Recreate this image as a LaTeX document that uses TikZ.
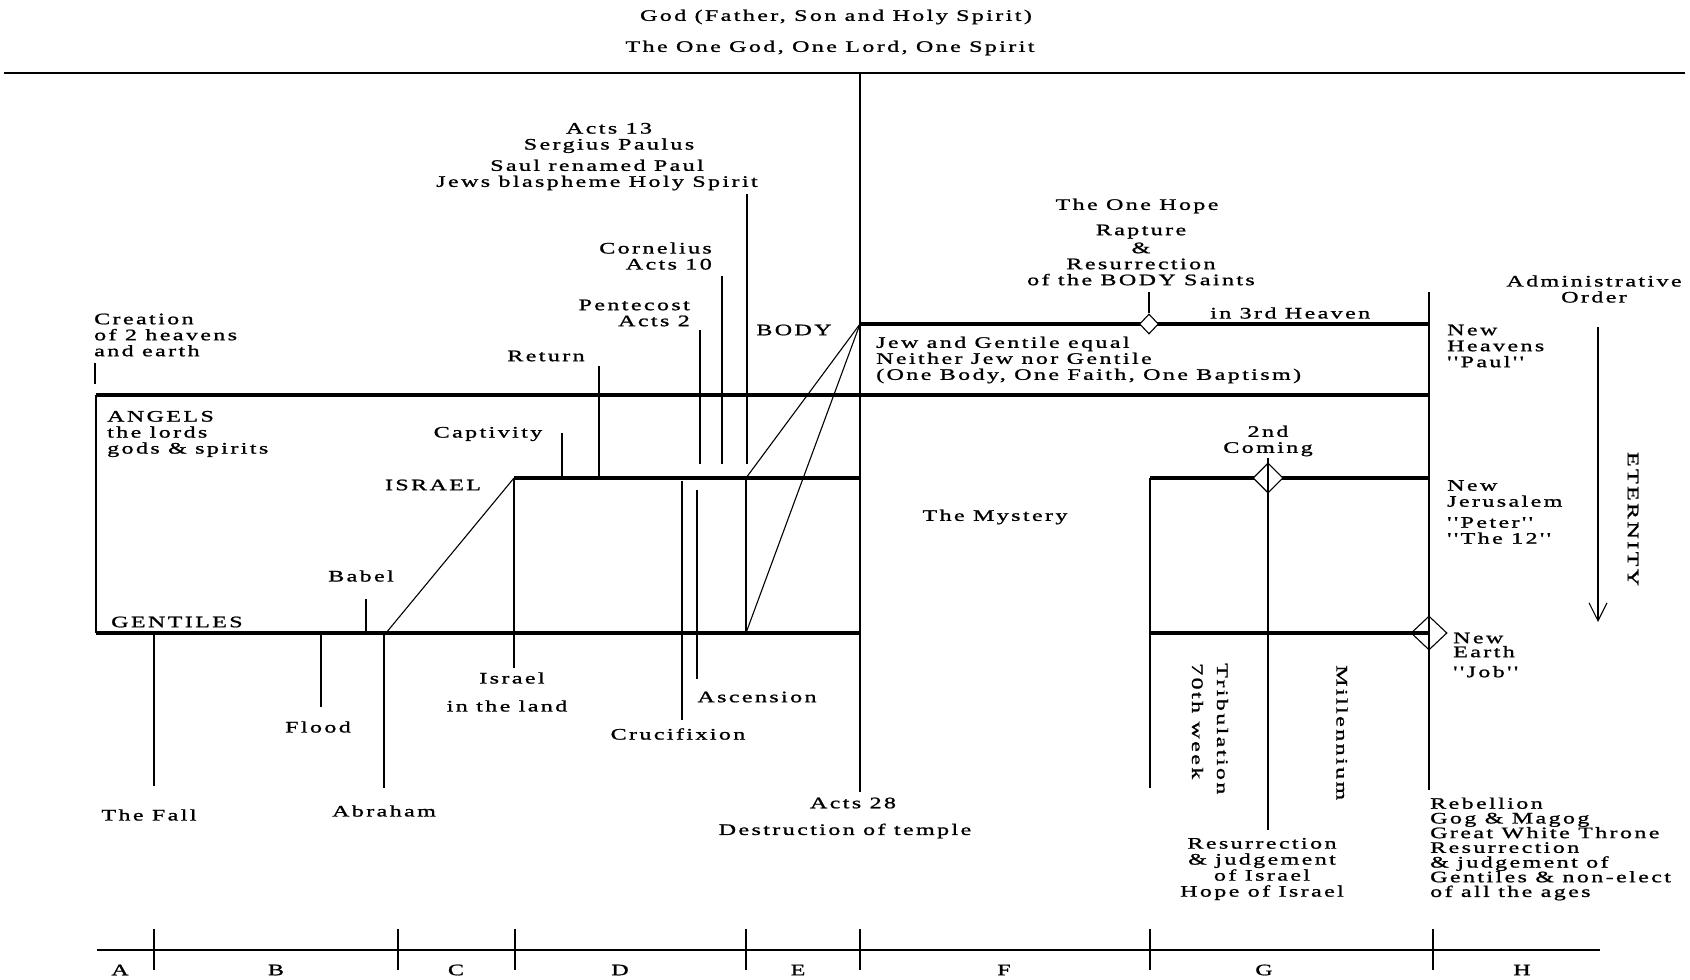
\documentclass[tikz,border=0pt]{standalone}
\usepackage{fontspec}
\usetikzlibrary{arrows.meta,shapes.geometric}
\newfontfamily\chartfont{Liberation Serif}[FakeStretch=1.5,LetterSpace=15,FakeBold=1.2]

\begin{document}
\begin{tikzpicture}[x=1pt,y=-1pt,
    txt/.style={inner sep=0pt,font=\chartfont\fontsize{16}{16}\selectfont},
    era/.style={line width=4.8pt},
    fine/.style={line width=1.1pt},
    gem/.style={diamond,draw,line width=1.1pt,fill=white,inner sep=0pt}]
  \useasboundingbox (0,0) rectangle (1690,980);

  % top
  \node[txt] (god) at (836,17) {God (Father, Son and Holy Spirit)};
  \node[txt] (onegod) at (830,48) {The One God, One Lord, One Spirit};
  \draw[line width=1.4pt] (4,73) -- (1685,73);

  % the thick lines
  \draw[era] (96,395) -- (1429,395);
  \draw[era] (860,324) -- (1429,324);
  \draw[era] (514,478) -- (860,478);
  \draw[era] (1150,478) -- (1429,478);
  \draw[era] (96,633) -- (860,633);
  \draw[era] (1150,633) -- (1429,633);

  \node[gem,minimum width=19pt,minimum height=20pt] (rapt) at (1149,324) {};
  \node[gem,minimum width=30pt,minimum height=30pt] (second) at (1268,478) {};
  \node[gem,fill=none,minimum width=36pt,minimum height=34pt] (earthgem) at (1429,633) {};

  % thin lines
  \draw[fine] (95,363) -- (95,384);
  \draw[fine] (96,395) -- (96,633);
  \draw[fine] (154,633) -- (154,786);
  \draw[fine] (321,633) -- (321,707);
  \draw[fine] (366,599) -- (366,633);
  \draw[fine] (384,633) -- (384,788);
  \draw[fine] (386,633) -- (514,478);
  \draw[fine] (514,478) -- (514,668);
  \draw[fine] (562,433) -- (562,478);
  \draw[fine] (599,366) -- (599,478);
  \draw[fine] (700,330) -- (700,464);
  \draw[fine] (722,276) -- (722,464);
  \draw[fine] (747,194) -- (747,464);
  \draw[fine] (682,481) -- (682,720);
  \draw[fine] (697,490) -- (697,679);
  \draw[fine] (746,478) -- (746,633);
  \draw[fine] (860,324) -- (746,478);
  \draw[fine] (860,324) -- (746,633);
  \draw[fine] (860,73) -- (860,792);
  \draw[fine] (1149,292) -- (rapt.north);
  \draw[fine] (1150,478) -- (1150,788);
  \draw[fine] (1268,458) -- (1268,830);
  \draw[fine] (1429,292) -- (1429,790);
  \draw[fine,-{Straight Barb[length=18pt,width=18pt]}] (1598,327) -- (1598,622);

  % labels
  \node[txt,anchor=west,align=left] (creation) at (94,335) {Creation\\of 2 heavens\\and earth};
  \node[txt,anchor=west,align=left] (angels) at (107,434) {ANGELS\\the lords\\gods \& spirits};
  \node[txt] (captivity) at (488,434) {Captivity};
  \node[txt] (return) at (546,356) {Return};
  \node[txt] (israel) at (433,485) {ISRAEL};
  \node[txt,anchor=west] (gentiles) at (111,622) {GENTILES};
  \node[txt] (babel) at (361,576) {Babel};
  \node[txt] (flood) at (318,727) {Flood};
  \node[txt] (fall) at (149,815) {The Fall};
  \node[txt] (abraham) at (384,811) {Abraham};
  \node[txt] (inland) at (512,678) {Israel};
  \node[txt] (inlandb) at (507,706) {in the land};
  \node[txt] (cruc) at (678,734) {Crucifixion};
  \node[txt] (ascension) at (757,697) {Ascension};
  \node[txt,anchor=east,align=right] (pentecost) at (690,313) {Pentecost\\Acts 2};
  \node[txt,anchor=east,align=right] (cornelius) at (712,256) {Cornelius\\Acts 10};
  \node[txt,align=center] (acts13) at (609,138) {Acts 13\\Sergius Paulus};
  \node[txt,align=center] (saul) at (597,175) {Saul renamed Paul\\Jews blaspheme Holy Spirit};
  \node[txt] (body) at (794,330) {BODY};
  \node[txt,anchor=west,align=left] (equal) at (876,360) {Jew and Gentile equal\\Neither Jew nor Gentile\\(One Body, One Faith, One Baptism)};
  \node[txt] (hope) at (1137,206) {The One Hope};
  \node[txt,align=center] (rapture) at (1141,255) {Rapture\\[2pt]\&\\Resurrection\\of the BODY Saints};
  \node[txt,anchor=west] (heaven3) at (1210,313) {in 3rd Heaven};
  \node[txt] (mystery) at (995,517) {The Mystery};
  \node[txt] (acts28) at (853,803) {Acts 28};
  \node[txt] (temple) at (845,831) {Destruction of temple};
  \node[txt,align=center] (coming) at (1268,441) {2nd\\Coming};
  \node[txt,rotate=-90,anchor=west,align=left] (trib) at (1210,663) {Tribulation\\[9pt]70th week};
  \node[txt,rotate=-90,anchor=west] (mill) at (1342,665) {Millennium};
  \node[txt,align=center] (resisrael) at (1262,869) {Resurrection\\\& judgement\\of Israel\\Hope of Israel};
  \node[txt,anchor=west,align=left,font=\chartfont\fontsize{16}{14.7}\selectfont] (rebellion) at (1430,849)
    {Rebellion\\Gog \& Magog\\Great White Throne\\Resurrection\\\& judgement of\\Gentiles \& non-elect\\of all the ages};
  \node[txt,align=center] (admin) at (1594,289) {Administrative\\Order};
  \node[txt,rotate=-90] (eternity) at (1633,519) {ETERNITY};
  \node[txt,anchor=west,align=left] (newheav) at (1447,346) {New\\Heavens\\''Paul''};
  \node[txt,anchor=west,align=left] (newjer) at (1447,512) {New\\Jerusalem\\[5pt]''Peter''\\''The 12''};
  \node[txt,anchor=west,align=left] (newearth) at (1453,655) {New\\[-2pt]Earth\\[4pt]''Job''};

  % ruler
  \draw[line width=1.4pt] (97,950) -- (1600,950);
  \foreach \x in {154,398,515,746,860,1150,1433}
    \draw[fine] (\x,929) -- (\x,970);
  \foreach \x/\t in {120/A,276/B,456/C,620/D,798/E,1004/F,1264/G,1522/H}
    \node[txt] (sec\t) at (\x,970) {\t};
\end{tikzpicture}
\end{document}
